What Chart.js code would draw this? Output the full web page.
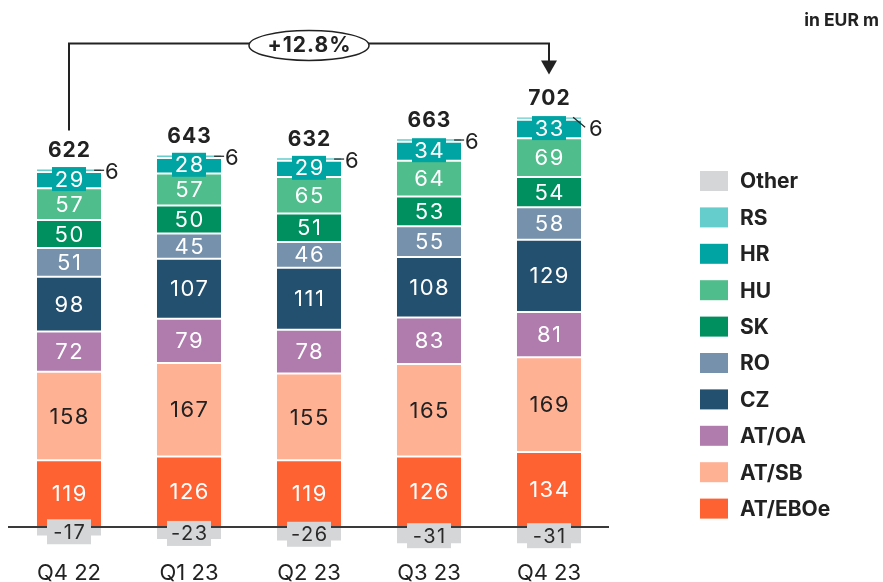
<!DOCTYPE html>
<html>
<head>
<meta charset="utf-8">
<script src="https://cdn.jsdelivr.net/npm/chart.js@4/dist/chart.umd.min.js"></script>
<style>
  html, body { margin: 0; padding: 0; background: #fff; }
  #wrap { width: 883px; height: 582px; position: relative; }
</style>
</head>
<body>
<div id="wrap"><canvas id="c" width="883" height="582"></canvas></div>
<script>
// ---- data ----
const categories = ['Q4 22', 'Q1 23', 'Q2 23', 'Q3 23', 'Q4 23'];
const atEBOe = [119, 126, 119, 126, 134];
const atSB   = [158, 167, 155, 165, 169];
const atOA   = [72, 79, 78, 83, 81];
const cz     = [98, 107, 111, 108, 129];
const ro     = [51, 45, 46, 55, 58];
const sk     = [50, 50, 51, 53, 54];
const hu     = [57, 57, 65, 64, 69];
const hr     = [29, 28, 29, 34, 33];
const rs     = [6, 6, 6, 6, 6];
const other  = [-17, -23, -26, -31, -31];
const totals = [622, 643, 632, 663, 702];
const growthLabel = '+12.8%';
const unitLabel = 'in EUR m';

const seriesNames = ['AT/EBOe', 'AT/SB', 'AT/OA', 'CZ', 'RO', 'SK', 'HU', 'HR', 'RS', 'Other'];
const seriesData = [atEBOe, atSB, atOA, cz, ro, sk, hu, hr, rs, other];
const seriesColors = ['#FF6232', '#FFB194', '#B07CAE', '#24506F', '#7691AB', '#00905F', '#50BD8C', '#00A4A2', '#66CDCD', '#D5D6D8'];
const darkTextSeries = ['AT/SB', 'Other'];

const FONT = 'Inter, "Noto Sans", Roboto, sans-serif';
const TXT = '#222222';

const datasets = seriesNames.map((name, i) => ({
  label: name,
  data: seriesData[i],
  backgroundColor: seriesColors[i],
  borderColor: '#ffffff',
  borderWidth: { top: 1, bottom: 1, left: 0, right: 0 },
  borderSkipped: false,
  barPercentage: 0.535,
  categoryPercentage: 1.0,
  stack: 's'
}));

const overlay = {
  id: 'overlay',
  afterDatasetsDraw(chart) {
    const ctx = chart.ctx;
    const y = chart.scales.y;
    const y0 = y.getPixelForValue(0);
    ctx.save();
    // baseline
    ctx.strokeStyle = '#3a3a3a';
    ctx.lineWidth = 2;
    ctx.beginPath();
    ctx.moveTo(chart.chartArea.left - 1, y0);
    ctx.lineTo(chart.chartArea.right, y0);
    ctx.stroke();

    const nameIdx = n => seriesNames.indexOf(n);
    const hrI = nameIdx('HR'), rsI = nameIdx('RS'), otI = nameIdx('Other');

    ctx.textAlign = 'center';
    ctx.textBaseline = 'middle';
    chart.data.datasets.forEach((ds, di) => {
      const meta = chart.getDatasetMeta(di);
      meta.data.forEach((el, j) => {
        const v = ds.data[j];
        const cy = (el.y + el.base) / 2;
        const cx = el.x;
        if (di === rsI) {
          const right = el.x + el.width / 2;
          ctx.strokeStyle = TXT;
          ctx.lineWidth = 1.2;
          ctx.beginPath();
          let tx, ty;
          if (j === categories.length - 1) {
            ctx.moveTo(right - 8, cy - 1);
            ctx.lineTo(right + 4, cy + 9);
            tx = right + 8; ty = cy + 11;
          } else {
            ctx.moveTo(right - 7, cy);
            ctx.lineTo(right + 3, cy);
            tx = right + 4; ty = cy + 2;
          }
          ctx.stroke();
          ctx.fillStyle = TXT;
          ctx.font = '400 22px ' + FONT;
          ctx.textAlign = 'left';
          ctx.fillText(String(v), tx, ty);
          ctx.textAlign = 'center';
          return;
        }
        ctx.font = '400 22px ' + FONT;
        ctx.letterSpacing = '1.5px';
        const isDark = darkTextSeries.includes(seriesNames[di]);
        if (di === hrI) {
          ctx.fillStyle = seriesColors[hrI];
          ctx.fillRect(cx - 17, cy - 13, 34, 24);
          ctx.fillStyle = '#ffffff';
          ctx.fillText(String(v), cx + 0.75, cy);
        } else if (di === otI) {
          ctx.fillStyle = seriesColors[otI];
          ctx.fillRect(cx - 22, cy - 12.5, 44, 25);
          ctx.font = '400 20px ' + FONT;
          ctx.fillStyle = '#2a2a2a';
          ctx.fillText(String(v), cx + 0.75, cy + 1);
        } else {
          ctx.fillStyle = isDark ? TXT : '#ffffff';
          ctx.fillText(String(v), cx + 0.75, cy + 1);
        }
        ctx.letterSpacing = '0px';
      });
    });

    // totals
    const topMeta = chart.getDatasetMeta(rsI);
    ctx.fillStyle = TXT;
    ctx.font = '700 21px ' + FONT;
    ctx.letterSpacing = '1px';
    const tops = [];
    topMeta.data.forEach((el, j) => {
      const top = Math.min(el.y, el.base);
      tops.push(top);
      ctx.fillText(String(totals[j]), el.x + 0.5, top - 18);
    });
    ctx.letterSpacing = '0px';

    // growth arrow
    const first = topMeta.data[0], last = topMeta.data[topMeta.data.length - 1];
    const lineY = Math.min(...tops) - 73;
    ctx.strokeStyle = TXT;
    ctx.lineWidth = 2;
    ctx.beginPath();
    ctx.moveTo(first.x, tops[0] - 38);
    ctx.lineTo(first.x, lineY);
    ctx.lineTo(last.x, lineY);
    ctx.lineTo(last.x, tops[tops.length - 1] - 52);
    ctx.stroke();
    ctx.fillStyle = TXT;
    ctx.beginPath();
    const tipY = tops[tops.length - 1] - 42;
    ctx.moveTo(last.x - 8, tipY - 14);
    ctx.lineTo(last.x + 8, tipY - 14);
    ctx.lineTo(last.x, tipY);
    ctx.closePath();
    ctx.fill();
    const ex = (first.x + last.x) / 2;
    ctx.beginPath();
    ctx.ellipse(ex, lineY + 2, 60, 15, 0, 0, Math.PI * 2);
    ctx.fillStyle = '#fff';
    ctx.fill();
    ctx.lineWidth = 1.5;
    ctx.stroke();
    ctx.fillStyle = TXT;
    ctx.font = '700 21px ' + FONT;
    ctx.letterSpacing = '1px';
    ctx.fillText(growthLabel, ex + 0.5, lineY + 2);
    ctx.letterSpacing = '0px';

    // unit label
    ctx.textAlign = 'right';
    ctx.font = '700 17.5px ' + FONT;
    ctx.fillText(unitLabel, 879, 21);

    // legend (top to bottom: reverse stacking order)
    ctx.textAlign = 'left';
    ctx.font = '700 21px ' + FONT;
    const order = seriesNames.slice().reverse();
    order.forEach((n, k) => {
      const ly = 181 + k * 36.4;
      ctx.fillStyle = seriesColors[seriesNames.indexOf(n)];
      ctx.fillRect(700, ly - 10, 28, 20);
      ctx.fillStyle = TXT;
      ctx.fillText(n, 740, ly + 1);
    });
    ctx.restore();
  }
};

new Chart(document.getElementById('c'), {
  type: 'bar',
  data: { labels: categories, datasets },
  options: {
    responsive: false,
    animation: false,
    devicePixelRatio: 1,
    layout: { padding: { left: 9, right: 274, top: 0, bottom: 0 } },
    plugins: { legend: { display: false }, tooltip: { enabled: false } },
    scales: {
      x: {
        stacked: true,
        grid: { display: false, drawTicks: false },
        border: { display: false },
        ticks: { padding: 12, color: TXT, font: { family: FONT, size: 22 } },
        afterFit(axis) { axis.height = 34; }
      },
      y: {
        stacked: true,
        display: false,
        min: -37.5,
        max: 941
      }
    }
  },
  plugins: [overlay]
});
</script>
</body>
</html>
